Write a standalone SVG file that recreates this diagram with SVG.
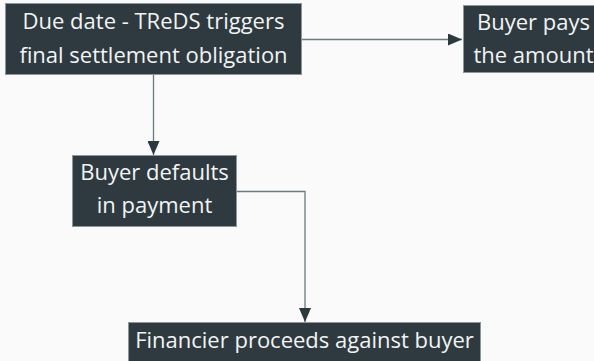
<svg xmlns="http://www.w3.org/2000/svg" width="594" height="361" viewBox="0 0 594 361">
  <defs>
    <marker id="arrow" viewBox="0 0 14 12" refX="14" refY="6" markerWidth="14" markerHeight="12" markerUnits="userSpaceOnUse" orient="auto">
      <path d="M0,0 L14,6 L0,12 Z" fill="#2b3a3f"/>
    </marker>
  </defs>
  <style>
    .box { fill: #2e3a3f; stroke: #8a979b; stroke-width: 1; }
    .label { font-family: "Open Sans", Lato, sans-serif; font-size: 22px; fill: #f2f4f4; text-anchor: middle; }
    .edge { fill: none; stroke: #6b7a7e; stroke-width: 1.3; }
  </style>
  <rect width="594" height="361" fill="#fafafa"/>

  <g id="connectors">
    <path class="edge" d="M302,39.5 H462" marker-end="url(#arrow)"/>
    <path class="edge" d="M153.5,75 V155" marker-end="url(#arrow)"/>
    <path class="edge" d="M237,191.5 H305 V322" marker-end="url(#arrow)"/>
  </g>

  <g id="due-date">
    <rect class="box" x="5.5" y="3.5" width="296" height="71"/>
    <text class="label" x="153.5" y="29">Due date - TReDS triggers</text>
    <text class="label" x="153.5" y="63">final settlement obligation</text>
  </g>

  <g id="buyer-pays">
    <rect class="box" x="463.5" y="5.5" width="140" height="67"/>
    <text class="label" x="533.5" y="30">Buyer pays</text>
    <text class="label" x="533.5" y="63">the amount</text>
  </g>

  <g id="buyer-defaults">
    <rect class="box" x="72.5" y="155.5" width="164" height="71"/>
    <text class="label" x="154.5" y="180">Buyer defaults</text>
    <text class="label" x="154.5" y="213">in payment</text>
  </g>

  <g id="financier">
    <rect class="box" x="128.5" y="322.5" width="352" height="50"/>
    <text class="label" x="304.5" y="348">Financier proceeds against buyer</text>
  </g>
</svg>
